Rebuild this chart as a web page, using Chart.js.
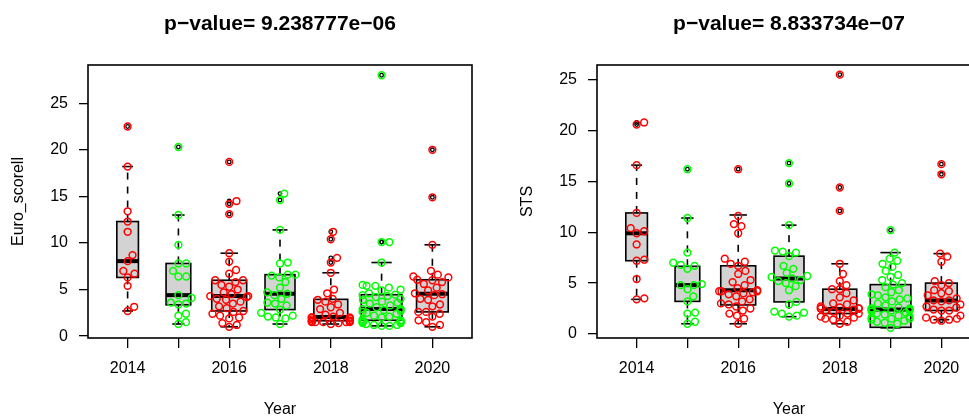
<!DOCTYPE html>
<html>
<head>
<meta charset="utf-8">
<script src="https://cdn.jsdelivr.net/npm/chart.js@4.4.1/dist/chart.umd.min.js"></script>
<style>
  html, body { margin: 0; padding: 0; background: #fff; overflow: hidden; width: 969px; height: 416px; position: relative; }
  canvas { position: absolute; top: 0; }
  #chart-euro { left: 0; }
  #chart-sts { left: 509px; }
</style>
</head>
<body>
<canvas id="chart-euro" width="480" height="416"></canvas>
<canvas id="chart-sts" width="480" height="416"></canvas>
<script>
// years on the x axis, every other one gets a label
const years = [2014, 2015, 2016, 2017, 2018, 2019, 2020];
const yTicks = [0, 5, 10, 15, 20, 25];
const groupColors = ['#FF0000', '#00FF00', '#FF0000', '#00FF00', '#FF0000', '#00FF00', '#FF0000'];

// Euro_scorell values per year
const euro2014 = [22.5, 18.2, 13.4, 12.3, 11.2, 8.7, 8.05, 7.0, 6.7, 6.3, 5.4, 3.15, 2.7];
const euro2015 = [20.3, 13.0, 9.8, 7.8, 7.8, 7.0, 6.4, 6.4, 4.4, 4.1, 3.6, 3.5, 3.4, 2.4, 2.2, 1.5, 1.3];
const euro2016 = [1.0, 1.2, 1.4, 1.9, 2.0, 2.2, 2.4, 2.6, 2.7, 3.0, 3.2, 3.5, 3.7, 3.9, 4.0, 4.2, 4.3,
                  4.3, 4.5, 4.7, 5.0, 5.3, 5.5, 5.8, 6.0, 6.0, 6.7, 7.1, 8.0, 8.9, 13.1, 14.2, 14.5, 18.7];
const euro2017 = [1.3, 1.9, 2.0, 2.1, 2.2, 2.5, 2.85, 3.3, 3.5, 3.6, 4.0, 4.4, 4.55, 4.7, 5.2, 5.8,
                  6.3, 6.5, 6.6, 6.6, 7.8, 7.9, 11.4, 14.6, 15.3];
const euro2018 = [1.3, 1.4, 1.5, 1.5, 1.5, 1.5, 1.5, 1.6, 1.6, 1.6, 1.7, 1.8, 1.9, 2.0, 2.0, 2.0,
                  2.1, 2.3, 2.5, 2.9, 3.1, 3.4, 3.7, 3.9, 4.0, 4.6, 5.0, 6.8, 7.9, 8.4, 10.4, 11.2];
const euro2019 = [1.1, 1.1, 1.2, 1.2, 1.3, 1.4, 1.4, 1.5, 1.5, 1.6, 1.6, 1.7, 1.8, 2.0, 2.1, 2.2,
                  2.4, 2.5, 2.6, 2.7, 2.8, 2.9, 2.9, 2.9, 3.1, 3.3, 3.5, 3.6, 3.7, 3.9, 4.0, 4.2,
                  4.3, 4.4, 4.45, 4.6, 4.9, 5.0, 5.2, 5.4, 5.4, 5.5, 7.9, 10.1, 10.1, 28.0];
const euro2020 = [1.0, 1.2, 1.5, 1.7, 2.1, 2.4, 2.6, 2.6, 3.2, 3.4, 3.9, 4.0, 4.4, 4.5, 4.6, 4.9,
                  5.2, 5.6, 5.8, 6.0, 6.05, 6.3, 6.4, 6.6, 7.0, 9.8, 14.9, 20.0];
// box statistics as drawn
const euroLow    = [2.7, 1.3, 1.0, 1.3, 1.3, 1.1, 1.0];
const euroQ1     = [6.3, 3.36, 2.7, 2.85, 1.65, 1.7, 2.6];
const euroMedian = [8.05, 4.4, 4.3, 4.55, 2.05, 2.9, 4.55];
const euroQ3     = [12.3, 7.8, 6.0, 6.6, 3.95, 4.45, 6.05];
const euroHigh   = [18.2, 13.0, 8.9, 11.4, 6.8, 7.9, 9.8];

// STS values per year
const sts2014 = [3.4, 3.5, 5.4, 7.2, 7.3, 8.8, 9.9, 10.1, 10.4, 11.9, 16.6, 20.6, 20.8];
const sts2015 = [1.0, 1.2, 2.0, 2.1, 3.2, 3.7, 4.4, 4.8, 4.8, 4.9, 6.4, 6.7, 6.8, 7.0, 8.0, 11.4, 16.2];
const sts2016 = [1.0, 1.5, 1.8, 2.0, 2.3, 2.5, 2.7, 2.9, 3.0, 3.2, 3.4, 3.7, 3.9, 4.0, 4.1, 4.2, 4.2,
                 4.2, 4.3, 4.5, 4.8, 5.1, 5.3, 5.9, 6.2, 6.7, 6.9, 7.1, 7.4, 9.9, 10.6, 10.8, 11.6, 16.2];
const sts2017 = [1.7, 1.8, 2.0, 2.1, 2.2, 2.9, 3.15, 4.3, 4.7, 5.0, 5.2, 5.3, 5.45, 5.6, 5.7, 6.0,
                 6.4, 6.7, 7.65, 8.0, 8.1, 8.2, 10.7, 14.8, 16.8];
const sts2018 = [1.0, 1.2, 1.4, 1.5, 1.6, 1.7, 1.8, 2.0, 2.0, 2.2, 2.3, 2.4, 2.5, 2.5, 2.5, 2.5,
                 2.6, 2.7, 2.9, 3.0, 3.3, 3.6, 4.0, 4.4, 4.4, 4.8, 5.2, 5.9, 6.9, 12.1, 14.4, 25.5];
const sts2019 = [0.6, 1.0, 1.1, 1.2, 1.3, 1.4, 1.5, 1.5, 1.6, 1.7, 1.8, 1.9, 2.0, 2.1, 2.2, 2.3,
                 2.3, 2.4, 2.4, 2.4, 2.5, 2.5, 2.6, 2.8, 3.0, 3.2, 3.4, 3.5, 3.6, 3.8, 3.9, 4.1,
                 4.3, 4.6, 4.85, 5.0, 5.3, 5.6, 5.8, 6.2, 6.6, 6.9, 7.2, 7.4, 8.0, 10.2];
const sts2020 = [1.3, 1.4, 1.4, 1.5, 1.6, 1.8, 2.3, 2.3, 2.4, 2.6, 2.7, 2.9, 3.2, 3.3, 3.3, 3.5,
                 3.8, 4.0, 4.2, 4.3, 4.8, 5.0, 5.2, 7.1, 7.6, 7.9, 15.7, 16.7];
const stsLow    = [3.4, 1.0, 1.0, 1.7, 1.0, 0.6, 1.4];
const stsQ1     = [7.2, 3.2, 2.85, 3.15, 2.0, 0.65, 2.3];
const stsMedian = [9.9, 4.8, 4.3, 5.45, 2.45, 2.4, 3.3];
const stsQ3     = [11.9, 6.65, 6.7, 7.65, 4.4, 4.85, 5.0];
const stsHigh   = [16.6, 11.4, 11.7, 10.7, 6.9, 8.0, 7.9];

const FONT = 'Liberation Sans, Arial, Helvetica, sans-serif';

function line(ctx, x1, y1, x2, y2) {
  ctx.beginPath(); ctx.moveTo(x1, y1); ctx.lineTo(x2, y2); ctx.stroke();
}

// boxes, whiskers, medians and outliers drawn underneath the swarm points
const boxPlotPlugin = {
  id: 'boxPlots',
  beforeDatasetsDraw(chart, args, opts) {
    const { ctx } = chart;
    const x = chart.scales.x, y = chart.scales.y;
    const nMax = Math.max(...opts.groups.map(g => g.length));
    ctx.save();
    ctx.strokeStyle = '#000';
    years.forEach((yr, i) => {
      const half = 0.4 * Math.sqrt(opts.groups[i].length / nMax); // varwidth
      const xl = x.getPixelForValue(yr - half);
      const xr = x.getPixelForValue(yr + half);
      const xc = x.getPixelForValue(yr);
      const pLow = y.getPixelForValue(opts.low[i]);
      const pQ1 = y.getPixelForValue(opts.q1[i]);
      const pMed = y.getPixelForValue(opts.median[i]);
      const pQ3 = y.getPixelForValue(opts.q3[i]);
      const pHigh = y.getPixelForValue(opts.high[i]);
      // box
      ctx.fillStyle = '#D3D3D3';
      ctx.fillRect(xl, pQ3, xr - xl, pQ1 - pQ3);
      ctx.lineWidth = 1.6;
      ctx.strokeRect(xl, pQ3, xr - xl, pQ1 - pQ3);
      // whiskers
      ctx.lineWidth = 1.6;
      ctx.setLineDash([7, 7]);
      line(ctx, xc, pQ3, xc, pHigh);
      line(ctx, xc, pQ1, xc, pLow);
      ctx.setLineDash([]);
      const sw = (xr - xl) / 4;
      line(ctx, xc - sw, pHigh, xc + sw, pHigh);
      line(ctx, xc - sw, pLow, xc + sw, pLow);
      // median
      ctx.lineWidth = 4;
      line(ctx, xl, pMed, xr, pMed);
      // outliers
      ctx.lineWidth = 1.3;
      opts.groups[i].forEach(v => {
        if (v > opts.high[i] || v < opts.low[i]) {
          ctx.beginPath();
          ctx.arc(xc, y.getPixelForValue(v), 1.8, 0, Math.PI * 2);
          ctx.stroke();
        }
      });
    });
    ctx.restore();
  },
  afterDraw(chart) {
    const { ctx, chartArea: a } = chart;
    ctx.save();
    ctx.strokeStyle = '#000';
    ctx.lineWidth = 1.6;
    ctx.strokeRect(a.left, a.top, a.right - a.left, a.bottom - a.top);
    ctx.restore();
  }
};

// beeswarm: each point goes to the free spot closest to the centre, ascending order
function swarmOffsets(values, yScale, d, gutter) {
  const order = values.map((v, i) => i).sort((a, b) => values[a] - values[b]);
  const placed = [];
  const xs = new Array(values.length).fill(0);
  for (const i of order) {
    const py = yScale.getPixelForValue(values[i]);
    const cands = [0];
    for (const p of placed) {
      const dy = Math.abs(p.y - py);
      if (dy < d) {
        const dx = Math.sqrt(d * d - dy * dy);
        cands.push(p.x + dx, p.x - dx);
      }
    }
    cands.sort((a, b) => Math.abs(a) - Math.abs(b));
    const best = cands.find(c => placed.every(p => (p.x - c) ** 2 + (p.y - py) ** 2 >= d * d - 0.01));
    placed.push({ x: best, y: py });
    xs[i] = Math.max(-gutter, Math.min(gutter, best));
  }
  return xs;
}

function makePanel(canvasId, title, yTitle, groups, stats, yMin, yMax) {
  const datasets = groups.map((vals, i) => ({
    label: String(years[i]),
    data: vals.map(v => ({ x: years[i], y: v })),
    borderColor: groupColors[i],
    backgroundColor: 'rgba(0,0,0,0)',
    pointRadius: 3.4,
    pointBorderWidth: 1.5,
    pointHoverRadius: 3.4
  }));
  const chart = new Chart(document.getElementById(canvasId), {
    type: 'scatter',
    data: { datasets },
    plugins: [boxPlotPlugin],
    options: {
      responsive: false,
      animation: false,
      events: [],
      layout: { padding: { right: 8 } },
      plugins: {
        legend: { display: false },
        tooltip: { enabled: false },
        title: {
          display: true, text: title, color: '#000', fullSize: false,
          font: { family: FONT, size: 21, weight: 'bold' },
          padding: { top: 11.5, bottom: 28.3 }
        },
        boxPlots: Object.assign({ groups }, stats)
      },
      scales: {
        x: {
          type: 'linear', min: 2013.22, max: 2020.78,
          afterBuildTicks: s => { s.ticks = years.map(v => ({ value: v })); },
          afterFit: s => { s.height = 78; },
          ticks: {
            color: '#000', font: { family: FONT, size: 16 }, padding: 11,
            autoSkip: false, maxRotation: 0,
            callback: v => (v % 2 === 0 ? String(v) : '')
          },
          grid: { drawOnChartArea: false, drawTicks: true, tickLength: 10, color: '#000', lineWidth: 1.3 },
          border: { display: false },
          title: { display: true, text: 'Year', color: '#000', font: { family: FONT, size: 16 }, padding: { top: 0, bottom: -3 } }
        },
        y: {
          min: yMin, max: yMax,
          afterBuildTicks: s => { s.ticks = yTicks.map(v => ({ value: v })); },
          afterFit: s => { s.width = 88; },
          ticks: { color: '#000', font: { family: FONT, size: 16 }, padding: 11 },
          grid: { drawOnChartArea: false, drawTicks: true, tickLength: 9, color: '#000', lineWidth: 1.3 },
          border: { display: false },
          title: { display: true, text: yTitle, color: '#000', font: { family: FONT, size: 16 }, padding: { top: 9, bottom: 0 } }
        }
      }
    }
  });
  // second pass: spread the points now that the scales are known
  const pxPerYear = chart.scales.x.getPixelForValue(2015) - chart.scales.x.getPixelForValue(2014);
  groups.forEach((vals, i) => {
    const offs = swarmOffsets(vals, chart.scales.y, 7.8, 19);
    chart.data.datasets[i].data = vals.map((v, k) => ({ x: years[i] + offs[k] / pxPerYear, y: v }));
  });
  chart.update('none');
  return chart;
}

makePanel('chart-euro', 'p\u2212value= 9.238777e\u221206', 'Euro_scorell',
  [euro2014, euro2015, euro2016, euro2017, euro2018, euro2019, euro2020],
  { low: euroLow, q1: euroQ1, median: euroMedian, q3: euroQ3, high: euroHigh },
  -0.2, 29.1);

makePanel('chart-sts', 'p\u2212value= 8.833734e\u221207', 'STS',
  [sts2014, sts2015, sts2016, sts2017, sts2018, sts2019, sts2020],
  { low: stsLow, q1: stsQ1, median: stsMedian, q3: stsQ3, high: stsHigh },
  -0.4, 26.45);
</script>
</body>
</html>
